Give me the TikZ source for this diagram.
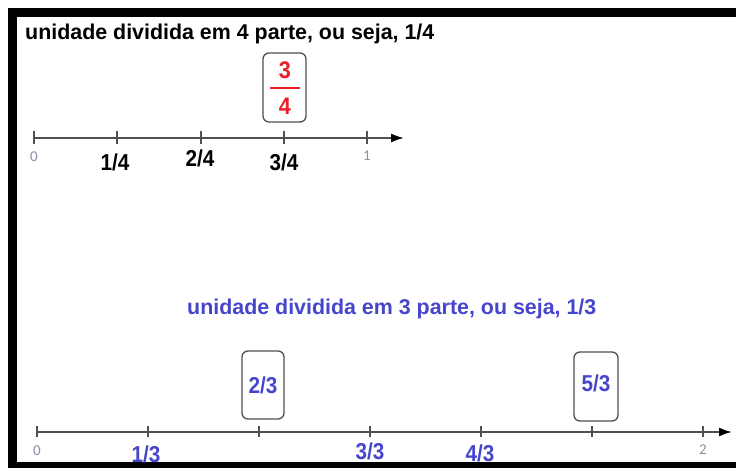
\documentclass[tikz,border=0pt]{standalone}
\usepackage{fontspec}
\setmainfont{Liberation Sans}
\newfontfamily\labelfont[FakeStretch=0.9]{Liberation Sans}
\newfontfamily\smallfont{Carlito}
\usetikzlibrary{arrows.meta}
\definecolor{axisgray}{RGB}{80,80,80}
\definecolor{numblue}{RGB}{70,70,205}
\definecolor{numred}{RGB}{235,30,40}
\definecolor{lightgray}{RGB}{135,145,165}
\tikzset{
  axisline/.style={draw=axisgray, line width=1.9pt, -{Latex[length=13pt,width=9pt,fill=black,color=black]}},
  tickmark/.style={draw=axisgray, line width=1.5pt},
  lbl/.style={font=\labelfont\fontsize{23}{23}\selectfont\bfseries, inner sep=0pt},
  redlbl/.style={font=\labelfont\fontsize{24}{24}\selectfont\bfseries, inner sep=0pt, text=numred},
  zerolbl/.style={font=\smallfont\fontsize{15}{15}\selectfont, text=lightgray, inner sep=0pt},
  fracbox/.style={draw=axisgray, line width=1.3pt, rounded corners=6pt},
  titletext/.style={font=\fontsize{21.4}{21.4}\selectfont\bfseries, inner sep=0pt},
}
\begin{document}
\begin{tikzpicture}[x=1pt,y=-1pt]
\useasboundingbox (0,0) rectangle (736,468);
\fill[white] (0,0) rectangle (736,468);
% frame
\fill[black] (8,8) rectangle (736,17);
\fill[black] (8,8) rectangle (17,468);
\fill[black] (8,462) rectangle (736,468);

% top title
\node[titletext, anchor=base west] (t1) at (25,40) {unidade dividida em 4 parte, ou seja, 1/4};

% top axis
\coordinate (a0) at (34,138);
\coordinate (aend) at (404,138);
\draw[axisline] (a0) -- (aend);
\foreach \i/\x in {0/34,1/117,2/201,3/284,4/367}{
  \coordinate (q\i) at (\x,138);
  \draw[tickmark] ([yshift=-6pt]q\i) -- ([yshift=7pt]q\i);
}
\node[zerolbl] (z0) at (34,157) {0};
\node[zerolbl] (z1) at (367,156) {1};
\node[lbl] (l14) at (115,162) {1/4};
\node[lbl] (l24) at (200,158) {2/4};
\node[lbl] (l34) at (284,162) {3/4};

% box 3/4
\draw[fracbox] (263,53) rectangle (306,122);
\node[redlbl] (n3) at (285,70) {3};
\draw[numred, line width=1.2pt] (270,88) -- (300,88);
\node[redlbl] (n4) at (285,106) {4};

% blue title
\node[titletext, text=numblue, anchor=base west] (t2) at (187,314.5) {unidade dividida em 3 parte, ou seja, 1/3};

% bottom axis
\coordinate (b0) at (37,432);
\coordinate (bend) at (732,432);
\draw[axisline] (b0) -- (bend);
\foreach \i/\x in {0/37,1/148,2/259,3/370,4/481,5/592,6/703}{
  \coordinate (r\i) at (\x,432);
  \draw[tickmark] ([yshift=-5pt]r\i) -- ([yshift=6pt]r\i);
}
\node[zerolbl] (y0) at (37,451) {0};
\node[zerolbl] (y2) at (703,450) {2};
\node[lbl, text=numblue] (l13) at (146,454) {1/3};
\node[lbl, text=numblue] (l33) at (370,451) {3/3};
\node[lbl, text=numblue] (l43) at (480,453) {4/3};

% boxes 2/3 and 5/3
\draw[fracbox] (242,351) rectangle (284,419);
\node[lbl, text=numblue] (l23) at (263,385) {2/3};
\draw[fracbox] (574,352) rectangle (618,421);
\node[lbl, text=numblue] (l53) at (596,383) {5/3};
\end{tikzpicture}
\end{document}
